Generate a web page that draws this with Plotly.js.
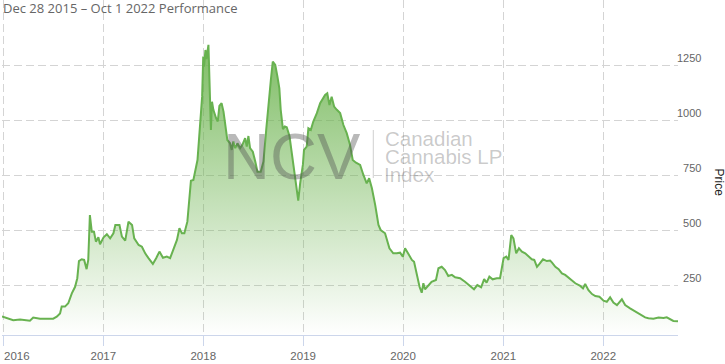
<!DOCTYPE html>
<html>
<head>
<meta charset="utf-8">
<script src="https://cdn.plot.ly/plotly-3.0.1.min.js"></script>
<style>
html,body{margin:0;padding:0;background:#fff;}
#chart{width:725px;height:364px;}
</style>
</head>
<body>
<div id="chart"></div>
<script>
// ---- data ----
const dates = [
'2015-12-28','2016-01-14','2016-02-07','2016-03-03','2016-04-08','2016-04-20','2016-05-15','2016-07-02','2016-07-15','2016-07-27',
'2016-08-02','2016-08-14','2016-08-26','2016-09-08','2016-09-20','2016-09-28','2016-10-04','2016-10-14','2016-10-23','2016-11-01',
'2016-11-07','2016-11-13','2016-11-20','2016-11-28','2016-12-05','2016-12-14','2016-12-20',
'2017-01-02','2017-01-14','2017-01-26','2017-02-07','2017-02-14','2017-03-01','2017-03-10','2017-03-22','2017-04-03','2017-04-16',
'2017-04-24','2017-05-10','2017-05-22','2017-06-03','2017-06-15','2017-07-01','2017-07-13','2017-07-25','2017-08-07','2017-08-21',
'2017-09-02','2017-09-14','2017-09-27','2017-10-06','2017-10-15','2017-10-24','2017-11-04','2017-11-17','2017-11-26','2017-12-11',
'2017-12-21','2017-12-28',
'2018-01-01','2018-01-04','2018-01-09','2018-01-13','2018-01-20','2018-01-24','2018-01-29','2018-02-02','2018-02-07','2018-02-17',
'2018-02-23','2018-03-01','2018-03-09','2018-03-16','2018-03-25','2018-03-30','2018-04-09','2018-04-15','2018-04-21','2018-04-28',
'2018-05-06','2018-05-16','2018-05-24','2018-06-03','2018-06-09','2018-06-15','2018-06-21','2018-07-01','2018-07-10','2018-07-18',
'2018-07-30','2018-08-09','2018-08-19','2018-08-27','2018-09-05','2018-09-12','2018-09-21','2018-09-29','2018-10-06','2018-10-11',
'2018-10-19','2018-10-26','2018-11-02','2018-11-12','2018-11-26','2018-12-06','2018-12-14','2018-12-21','2018-12-31',
'2019-01-04','2019-01-14','2019-01-20','2019-01-29','2019-02-07','2019-02-20','2019-03-04','2019-03-14','2019-03-22','2019-03-30',
'2019-04-07','2019-04-15','2019-04-24','2019-05-04','2019-05-16','2019-05-28','2019-06-09','2019-06-21','2019-07-01','2019-07-13',
'2019-07-28','2019-08-09','2019-08-21','2019-08-30','2019-09-09','2019-09-21','2019-10-03','2019-10-11','2019-10-27','2019-11-12',
'2019-11-26','2019-12-09','2019-12-21','2019-12-31',
'2020-01-08','2020-01-20','2020-02-02','2020-02-10','2020-02-20','2020-03-01','2020-03-09','2020-03-15','2020-03-21','2020-04-02',
'2020-04-14','2020-04-30','2020-05-09','2020-05-21','2020-06-02','2020-06-14','2020-06-27','2020-07-09','2020-07-27','2020-08-14',
'2020-08-30','2020-09-16','2020-09-28','2020-10-12','2020-10-23','2020-11-01','2020-11-11','2020-11-23','2020-12-08','2020-12-20',
'2021-01-02','2021-01-12','2021-01-20','2021-01-30','2021-02-07','2021-02-17','2021-02-27','2021-03-10','2021-03-22','2021-04-03',
'2021-04-15','2021-04-24','2021-05-04','2021-05-13','2021-05-26','2021-06-09','2021-06-21','2021-06-28','2021-07-10','2021-07-22',
'2021-08-03','2021-08-15','2021-09-02','2021-09-21','2021-10-09','2021-10-19','2021-10-27','2021-11-08','2021-11-21','2021-12-03',
'2021-12-18',
'2022-01-02','2022-01-14','2022-01-26','2022-02-07','2022-02-20','2022-03-10','2022-03-22','2022-04-09','2022-04-28','2022-05-16',
'2022-06-03','2022-06-15','2022-07-03','2022-07-22','2022-08-09','2022-08-21','2022-09-02','2022-09-14','2022-10-01'
];
const prices = [
110,102,93,96,91,105,100,100,109,124,
155,155,170,215,245,284,362,370,367,325,
367,571,495,495,450,470,438,
470,484,465,488,526,526,473,455,541,526,
465,435,427,397,375,349,375,405,377,382,
375,415,458,511,488,488,541,727,730,821,
973,1109,
1291,1245,1321,1280,1344,1185,958,1086,1049,1011,
996,1067,1079,1041,958,912,897,867,905,875,
897,875,890,920,882,930,875,859,814,768,
768,814,958,1079,1185,1268,1253,1200,1147,1049,
961,973,970,930,791,715,636,715,800,
867,882,965,958,996,1034,1079,1102,1117,1124,
1071,1109,1064,1049,1034,980,943,890,821,809,
799,753,715,738,693,617,526,503,488,420,
397,397,400,382,
420,395,367,359,306,245,218,261,234,253,
268,276,329,336,321,294,299,288,284,268,
253,234,253,243,280,264,291,279,284,284,
375,382,367,480,465,397,420,405,397,382,
370,367,336,349,370,362,364,355,336,325,
306,299,279,261,249,238,258,230,212,203,
200,
182,177,197,173,162,188,162,147,132,120,
106,102,100,105,103,106,97,90,88
];
const yearTicks = ['2016-01-01','2017-01-01','2018-01-01','2019-01-01','2020-01-01','2021-01-01','2022-01-01'];
const yearLabels = ['2016','2017','2018','2019','2020','2021','2022'];
const priceTicks = [250,500,750,1000,1250];
const priceLabels = ['\u2007250','\u2007500','\u2007750','1000','1250'];
const chartTitle = 'Dec 28 2015 \u2013 Oct 1 2022 Performance';
const yTitle = 'Price';
const wmBig = 'NCV';
const wmLines = ['Canadian','Cannabis LP','Index'];

const green = 'rgb(104,178,80)';
const trace = {
  x: dates, y: prices, type: 'scatter', mode: 'lines',
  line: {color: green, width: 2},
  fill: 'tozeroy',
  fillgradient: {type: 'vertical', start: 26, stop: 1548,
    colorscale: [[0,'rgba(106,178,76,0)'],[1,'rgba(106,178,76,1)']]},
  hoverinfo: 'skip'
};

const W = 725, H = 364, L = 2, R = 47, T = 0, B = 29;
const pw = W - L - R, ph = H - T - B;
const px = v => (v - L) / pw;
const py = v => (H - B - v) / ph;

const axFont = {family:'Liberation Sans, Arial, sans-serif', size:11.5, color:'#666'};
const wmColor = 'rgba(80,80,80,0.40)';
const wmColor2 = 'rgba(90,90,90,0.33)';
const wmFont = {family:'Liberation Sans, Arial, sans-serif', size:20.5, color: wmColor2};
const annotations = [
  {text: wmBig, xref:'paper', yref:'paper', x: px(221), y: py(156), xanchor:'left', yanchor:'middle',
   showarrow:false, font:{family:'Liberation Sans, Arial, sans-serif', size:65, color: wmColor}},
  {text: wmLines[0], xref:'paper', yref:'paper', x: px(383), y: py(138.7), xanchor:'left', yanchor:'middle',
   height: 17, valign:'middle', showarrow:false, font: wmFont},
  {text: wmLines[1], xref:'paper', yref:'paper', x: px(383), y: py(156.7), xanchor:'left', yanchor:'middle',
   height: 17, valign:'middle', showarrow:false, font: wmFont},
  {text: wmLines[2], xref:'paper', yref:'paper', x: px(382), y: py(174.7), xanchor:'left', yanchor:'middle',
   height: 17, valign:'middle', showarrow:false, font: wmFont},
  {text: yTitle, xref:'paper', yref:'paper', x: px(718.5), y: py(183), xanchor:'center', yanchor:'middle',
   textangle: 90, showarrow:false, font:{family:'Liberation Sans, Arial, sans-serif', size:12, color:'#222'}},
  {text: chartTitle, xref:'paper', yref:'paper', x: px(1), y: py(8), xanchor:'left', yanchor:'middle',
   showarrow:false, font:{family:'Open Sans, sans-serif', size:13, color:'#666'}},
  // first year label sits to the right of its tick (edge of chart)
  {text: yearLabels[0], xref:'x', yref:'paper', x: yearTicks[0], y: py(355.5), xanchor:'left', yanchor:'middle',
   showarrow:false, borderpad:0, font: axFont}
];

const layout = {
  width: W, height: H,
  margin: {l: L, r: R, t: T, b: B, pad: 0},
  paper_bgcolor: '#fff', plot_bgcolor: '#fff',
  showlegend: false,
  xaxis: {type:'date', range:['2015-12-28','2022-10-01'], tickvals: yearTicks, ticktext: [''].concat(yearLabels.slice(1)),
    showgrid:true, gridcolor:'#d4d4d4', griddash:'8px,4px', gridwidth:1,
    showline:true, linecolor:'#ccd6eb', linewidth:1,
    ticks:'outside', ticklen:10, tickcolor:'#ccd6eb', tickwidth:1,
    tickfont: axFont, zeroline:false, fixedrange:true},
  yaxis: {range:[26,1548], side:'right', tickvals: priceTicks, ticktext: priceLabels,
    showgrid:true, gridcolor:'#d4d4d4', griddash:'8px,4px', gridwidth:1,
    showline:false, ticks:'', ticklabelposition:'outside top', ticklabelstandoff: -2,
    tickfont:{family:'Liberation Sans, Arial, sans-serif', size:11, color:'#666'},
    zeroline:false, fixedrange:true},
  shapes: [
    {type:'line', xref:'paper', yref:'paper', x0: px(373.3), x1: px(373.3), y0: py(178), y1: py(130),
     line:{color:'rgba(120,120,120,0.35)', width:1}}
  ],
  annotations: annotations
};

Plotly.newPlot('chart', [trace], layout, {displayModeBar:false, staticPlot:true});
</script>
</body>
</html>
